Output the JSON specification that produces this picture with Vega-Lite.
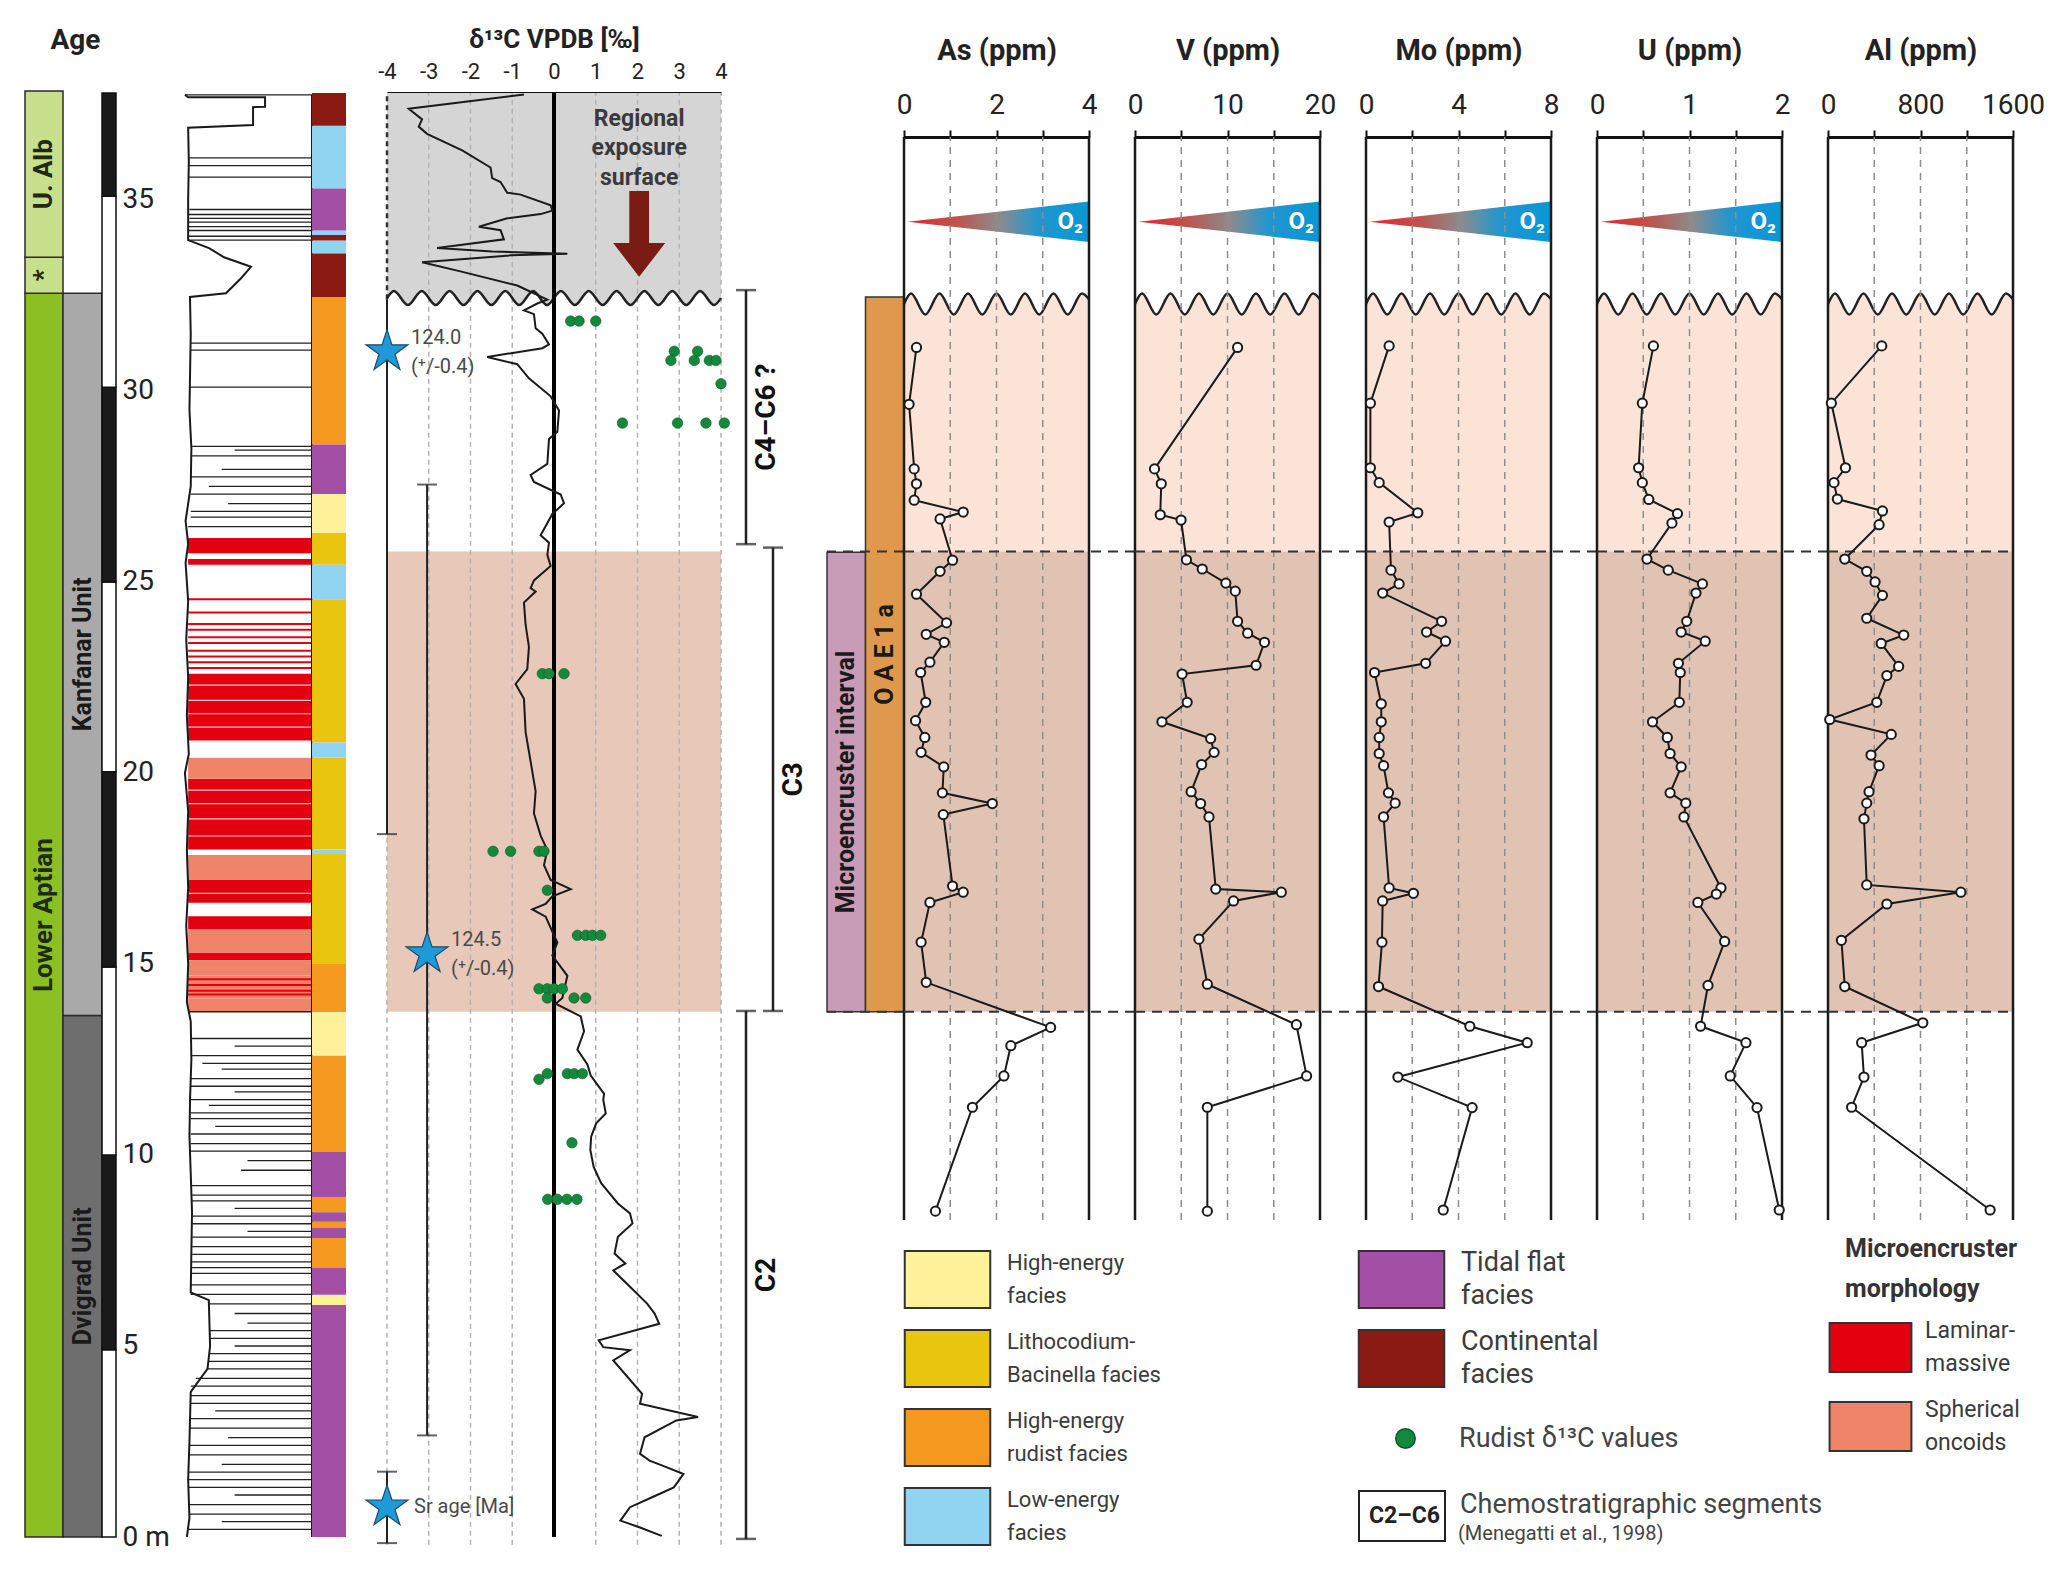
{
"$schema": "https://vega.github.io/schema/vega-lite/v6.json",
"background": "white",
"padding": {"left": 24, "top": 26, "right": 5, "bottom": 5},
"config": {"view": {"stroke": null}, "font": "Roboto", "style": {"guide-label": {"lineHeight": 33}}},
"datasets": {
"geo": [
{"el":"As","d":31.14,"v":0.27},{"el":"As","d":29.65,"v":0.11},{"el":"As","d":27.96,"v":0.22},{"el":"As","d":27.57,"v":0.27},{"el":"As","d":27.14,"v":0.22},{"el":"As","d":26.83,"v":1.28},{"el":"As","d":26.65,"v":0.78},{"el":"As","d":25.57,"v":1.05},{"el":"As","d":25.28,"v":0.78},{"el":"As","d":24.68,"v":0.27},{"el":"As","d":23.93,"v":0.92},{"el":"As","d":23.63,"v":0.48},{"el":"As","d":23.42,"v":0.87},{"el":"As","d":22.9,"v":0.56},{"el":"As","d":22.63,"v":0.36},{"el":"As","d":21.85,"v":0.47},{"el":"As","d":21.37,"v":0.25},{"el":"As","d":20.93,"v":0.45},{"el":"As","d":20.54,"v":0.37},{"el":"As","d":20.16,"v":0.86},{"el":"As","d":19.48,"v":0.83},{"el":"As","d":19.2,"v":1.91},{"el":"As","d":18.91,"v":0.85},{"el":"As","d":17.04,"v":1.05},{"el":"As","d":16.88,"v":1.28},{"el":"As","d":16.61,"v":0.56},{"el":"As","d":15.57,"v":0.37},{"el":"As","d":14.52,"v":0.48},{"el":"As","d":13.34,"v":3.17},{"el":"As","d":12.86,"v":2.31},{"el":"As","d":12.07,"v":2.16},{"el":"As","d":11.25,"v":1.48},{"el":"As","d":8.53,"v":0.68},
{"el":"V","d":31.14,"v":11.09},{"el":"V","d":27.96,"v":2.11},{"el":"V","d":27.57,"v":2.84},{"el":"V","d":26.76,"v":2.73},{"el":"V","d":26.62,"v":4.98},{"el":"V","d":25.58,"v":5.56},{"el":"V","d":25.34,"v":7.27},{"el":"V","d":24.97,"v":9.82},{"el":"V","d":24.76,"v":10.84},{"el":"V","d":23.97,"v":11.09},{"el":"V","d":23.66,"v":12.18},{"el":"V","d":23.42,"v":14.0},{"el":"V","d":22.82,"v":13.09},{"el":"V","d":22.59,"v":5.09},{"el":"V","d":21.85,"v":5.64},{"el":"V","d":21.34,"v":2.91},{"el":"V","d":20.9,"v":8.18},{"el":"V","d":20.54,"v":8.55},{"el":"V","d":20.22,"v":7.2},{"el":"V","d":19.51,"v":6.07},{"el":"V","d":19.2,"v":7.09},{"el":"V","d":18.85,"v":8.0},{"el":"V","d":16.96,"v":8.73},{"el":"V","d":16.88,"v":15.82},{"el":"V","d":16.65,"v":10.65},{"el":"V","d":15.65,"v":6.91},{"el":"V","d":14.47,"v":7.82},{"el":"V","d":13.41,"v":17.45},{"el":"V","d":12.07,"v":18.55},{"el":"V","d":11.25,"v":7.82},{"el":"V","d":8.53,"v":7.82},
{"el":"Mo","d":31.18,"v":1.0},{"el":"Mo","d":29.68,"v":0.19},{"el":"Mo","d":27.99,"v":0.19},{"el":"Mo","d":27.6,"v":0.57},{"el":"Mo","d":26.81,"v":2.24},{"el":"Mo","d":26.57,"v":1.0},{"el":"Mo","d":25.31,"v":1.08},{"el":"Mo","d":24.95,"v":1.43},{"el":"Mo","d":24.71,"v":0.72},{"el":"Mo","d":23.97,"v":3.27},{"el":"Mo","d":23.69,"v":2.62},{"el":"Mo","d":23.45,"v":3.44},{"el":"Mo","d":22.87,"v":2.58},{"el":"Mo","d":22.63,"v":0.37},{"el":"Mo","d":21.81,"v":0.66},{"el":"Mo","d":21.34,"v":0.66},{"el":"Mo","d":20.93,"v":0.57},{"el":"Mo","d":20.51,"v":0.57},{"el":"Mo","d":20.19,"v":0.76},{"el":"Mo","d":19.48,"v":0.97},{"el":"Mo","d":19.21,"v":1.26},{"el":"Mo","d":18.85,"v":0.76},{"el":"Mo","d":16.99,"v":1.0},{"el":"Mo","d":16.85,"v":2.05},{"el":"Mo","d":16.65,"v":0.72},{"el":"Mo","d":15.57,"v":0.69},{"el":"Mo","d":14.41,"v":0.54},{"el":"Mo","d":13.37,"v":4.49},{"el":"Mo","d":12.94,"v":6.97},{"el":"Mo","d":12.04,"v":1.38},{"el":"Mo","d":11.24,"v":4.59},{"el":"Mo","d":8.56,"v":3.34},
{"el":"U","d":31.18,"v":0.61},{"el":"U","d":29.68,"v":0.49},{"el":"U","d":27.99,"v":0.45},{"el":"U","d":27.6,"v":0.49},{"el":"U","d":27.16,"v":0.56},{"el":"U","d":26.79,"v":0.87},{"el":"U","d":26.54,"v":0.81},{"el":"U","d":25.6,"v":0.54},{"el":"U","d":25.31,"v":0.77},{"el":"U","d":24.95,"v":1.14},{"el":"U","d":24.71,"v":1.07},{"el":"U","d":23.97,"v":0.97},{"el":"U","d":23.69,"v":0.91},{"el":"U","d":23.45,"v":1.17},{"el":"U","d":22.87,"v":0.88},{"el":"U","d":22.63,"v":0.9},{"el":"U","d":21.85,"v":0.89},{"el":"U","d":21.34,"v":0.6},{"el":"U","d":20.93,"v":0.76},{"el":"U","d":20.51,"v":0.79},{"el":"U","d":20.16,"v":0.91},{"el":"U","d":19.48,"v":0.79},{"el":"U","d":19.21,"v":0.96},{"el":"U","d":18.85,"v":0.94},{"el":"U","d":16.99,"v":1.34},{"el":"U","d":16.83,"v":1.29},{"el":"U","d":16.61,"v":1.09},{"el":"U","d":15.59,"v":1.38},{"el":"U","d":14.44,"v":1.2},{"el":"U","d":13.37,"v":1.12},{"el":"U","d":12.94,"v":1.61},{"el":"U","d":12.07,"v":1.44},{"el":"U","d":11.24,"v":1.73},{"el":"U","d":8.56,"v":1.97},
{"el":"Al","d":31.18,"v":465},{"el":"Al","d":29.68,"v":29},{"el":"Al","d":27.99,"v":151},{"el":"Al","d":27.6,"v":52},{"el":"Al","d":27.17,"v":81},{"el":"Al","d":26.86,"v":471},{"el":"Al","d":26.5,"v":442},{"el":"Al","d":25.6,"v":145},{"el":"Al","d":25.28,"v":335},{"el":"Al","d":25.0,"v":407},{"el":"Al","d":24.65,"v":471},{"el":"Al","d":24.05,"v":335},{"el":"Al","d":23.61,"v":655},{"el":"Al","d":23.39,"v":460},{"el":"Al","d":22.79,"v":611},{"el":"Al","d":22.55,"v":509},{"el":"Al","d":21.85,"v":422},{"el":"Al","d":21.4,"v":15},{"el":"Al","d":21.01,"v":547},{"el":"Al","d":20.47,"v":372},{"el":"Al","d":20.19,"v":442},{"el":"Al","d":19.51,"v":355},{"el":"Al","d":19.21,"v":335},{"el":"Al","d":18.8,"v":311},{"el":"Al","d":17.07,"v":335},{"el":"Al","d":16.88,"v":1149},{"el":"Al","d":16.57,"v":509},{"el":"Al","d":15.62,"v":116},{"el":"Al","d":14.41,"v":145},{"el":"Al","d":13.46,"v":820},{"el":"Al","d":12.94,"v":291},{"el":"Al","d":12.04,"v":311},{"el":"Al","d":11.25,"v":204},{"el":"Al","d":8.56,"v":1402}
],
"d13c": [
{"d":37.76,"v":-0.72},{"d":37.39,"v":-3.48},{"d":37.11,"v":-3.16},{"d":36.92,"v":-3.24},{"d":36.73,"v":-3.04},{"d":36.3,"v":-2.2},{"d":35.85,"v":-1.52},{"d":35.57,"v":-1.48},{"d":35.47,"v":-1.28},{"d":35.19,"v":-1.12},{"d":35.14,"v":-0.8},{"d":34.86,"v":-0.08},{"d":34.72,"v":-0.04},{"d":34.63,"v":-0.32},{"d":34.52,"v":-1.12},{"d":34.3,"v":-1.8},{"d":34.21,"v":-1.28},{"d":33.97,"v":-1.2},{"d":33.74,"v":-2.8},{"d":33.65,"v":-1.48},{"d":33.59,"v":0.32},{"d":33.55,"v":-1.04},{"d":33.37,"v":-3.16},{"d":33.13,"v":-2.24},{"d":32.76,"v":-0.88},{"d":32.39,"v":-0.16},{"d":32.29,"v":-0.4},{"d":32.11,"v":-0.72},{"d":32.01,"v":-0.48},{"d":31.64,"v":-0.44},{"d":31.5,"v":-0.28},{"d":31.22,"v":-0.12},{"d":31.12,"v":-0.28},{"d":30.89,"v":-1.6},{"d":30.7,"v":-0.88},{"d":30.33,"v":-0.6},{"d":29.86,"v":-0.08},{"d":29.49,"v":0.12},{"d":28.93,"v":0.08},{"d":28.74,"v":-0.12},{"d":28.09,"v":-0.16},{"d":27.8,"v":-0.56},{"d":27.62,"v":-0.48},{"d":27.29,"v":0.16},{"d":27.06,"v":0.24},{"d":26.78,"v":-0.04},{"d":26.22,"v":-0.32},{"d":26.03,"v":-0.12},{"d":25.71,"v":-0.16},{"d":25.42,"v":-0.08},{"d":25.04,"v":-0.48},{"d":24.84,"v":-0.56},{"d":24.75,"v":-0.44},{"d":24.46,"v":-0.72},{"d":23.88,"v":-0.68},{"d":23.3,"v":-0.6},{"d":22.72,"v":-0.64},{"d":22.33,"v":-0.92},{"d":21.94,"v":-0.72},{"d":21.07,"v":-0.68},{"d":20.3,"v":-0.56},{"d":19.52,"v":-0.44},{"d":18.94,"v":-0.48},{"d":18.36,"v":-0.32},{"d":17.98,"v":-0.16},{"d":17.59,"v":-0.24},{"d":17.2,"v":-0.08},{"d":16.96,"v":0.4},{"d":16.77,"v":-0.04},{"d":16.57,"v":-0.2},{"d":16.43,"v":-0.52},{"d":16.24,"v":-0.2},{"d":15.85,"v":-0.04},{"d":15.56,"v":0.08},{"d":15.22,"v":-0.04},{"d":14.69,"v":0.32},{"d":14.11,"v":0.2},{"d":13.96,"v":0.04},{"d":13.63,"v":0.64},{"d":13.24,"v":0.72},{"d":12.76,"v":0.56},{"d":12.37,"v":0.8},{"d":12.08,"v":0.88},{"d":11.6,"v":1.2},{"d":11.44,"v":1.18},{"d":11.09,"v":1.24},{"d":10.83,"v":1.01},{"d":10.48,"v":0.89},{"d":10.13,"v":0.87},{"d":9.69,"v":0.95},{"d":9.26,"v":1.13},{"d":8.73,"v":1.53},{"d":8.47,"v":1.82},{"d":8.21,"v":1.88},{"d":7.86,"v":1.53},{"d":7.42,"v":1.45},{"d":7.16,"v":1.71},{"d":6.98,"v":1.42},{"d":6.55,"v":1.82},{"d":6.11,"v":2.23},{"d":5.85,"v":2.41},{"d":5.58,"v":2.52},{"d":5.15,"v":1.07},{"d":4.97,"v":1.18},{"d":4.89,"v":1.82},{"d":4.62,"v":1.42},{"d":3.75,"v":2.11},{"d":3.49,"v":2.06},{"d":3.14,"v":3.45},{"d":3.05,"v":2.93},{"d":2.61,"v":2.17},{"d":2.18,"v":2.06},{"d":2.0,"v":2.29},{"d":1.83,"v":2.69},{"d":1.65,"v":3.1},{"d":1.3,"v":2.87},{"d":1.04,"v":2.35},{"d":0.78,"v":1.82},{"d":0.43,"v":1.59},{"d":0.25,"v":2.06},{"d":0.03,"v":2.58}
],
"rudist": [
{"d":31.83,"v":0.4},{"d":31.83,"v":0.6},{"d":31.83,"v":1.0},{"d":31.04,"v":2.88},{"d":31.04,"v":3.44},{"d":30.8,"v":2.8},{"d":30.8,"v":3.36},{"d":30.8,"v":3.72},{"d":30.8,"v":3.88},{"d":30.19,"v":4.0},{"d":29.16,"v":1.64},{"d":29.16,"v":2.96},{"d":29.16,"v":3.64},{"d":29.16,"v":4.08},
{"d":22.6,"v":-0.28},{"d":22.6,"v":-0.12},{"d":22.6,"v":0.24},{"d":17.95,"v":-1.46},{"d":17.95,"v":-1.04},{"d":17.95,"v":-0.36},{"d":17.95,"v":-0.24},{"d":16.93,"v":-0.16},{"d":15.75,"v":0.56},{"d":15.75,"v":0.76},{"d":15.75,"v":0.92},{"d":15.75,"v":1.12},{"d":14.35,"v":-0.36},{"d":14.35,"v":-0.16},{"d":14.35,"v":0.0},{"d":14.35,"v":0.2},{"d":14.11,"v":-0.16},{"d":14.11,"v":0.48},{"d":14.11,"v":0.76},{"d":12.13,"v":-0.16},{"d":12.13,"v":0.32},{"d":12.13,"v":0.48},{"d":12.13,"v":0.68},{"d":11.98,"v":-0.36},{"d":10.32,"v":0.43},{"d":8.84,"v":-0.15},{"d":8.84,"v":0.08},{"d":8.84,"v":0.31},{"d":8.84,"v":0.55}
],
"waveG": [
{"t":0,"d":32.28},{"t":0.038,"d":32.55},{"t":0.115,"d":32.0},{"t":0.192,"d":32.55},{"t":0.269,"d":32.0},{"t":0.346,"d":32.55},{"t":0.423,"d":32.0},{"t":0.5,"d":32.55},{"t":0.577,"d":32.0},{"t":0.654,"d":32.55},{"t":0.731,"d":32.0},{"t":0.808,"d":32.55},{"t":0.885,"d":32.0},{"t":0.962,"d":32.55},{"t":1,"d":32.4}
],
"waveD": [
{"v":-4,"d":32.43},{"v":-3.833,"d":32.62},{"v":-3.5,"d":32.25},{"v":-3.167,"d":32.62},{"v":-2.833,"d":32.25},{"v":-2.5,"d":32.62},{"v":-2.167,"d":32.25},{"v":-1.833,"d":32.62},{"v":-1.5,"d":32.25},{"v":-1.167,"d":32.62},{"v":-0.833,"d":32.25},{"v":-0.5,"d":32.62},{"v":-0.167,"d":32.25},{"v":0.167,"d":32.62},{"v":0.5,"d":32.25},{"v":0.833,"d":32.62},{"v":1.167,"d":32.25},{"v":1.5,"d":32.62},{"v":1.833,"d":32.25},{"v":2.167,"d":32.62},{"v":2.5,"d":32.25},{"v":2.833,"d":32.62},{"v":3.167,"d":32.25},{"v":3.5,"d":32.62},{"v":3.833,"d":32.25},{"v":4,"d":32.43}
],
"o2": [{"t":0.02,"lo":34.43,"hi":34.43,"mid":34.43},{"t":1,"lo":33.9,"hi":34.96,"mid":34.43,"label":"O₂"}],
"facies": [
{"from":36.94,"to":37.8,"facies":"Continental facies"},{"from":35.3,"to":36.94,"facies":"Low-energy facies"},{"from":34.2,"to":35.3,"facies":"Tidal flat facies"},{"from":34.08,"to":34.2,"facies":"Low-energy facies"},{"from":33.94,"to":34.08,"facies":"Continental facies"},{"from":33.6,"to":33.94,"facies":"Low-energy facies"},{"from":32.46,"to":33.6,"facies":"Continental facies"},{"from":28.6,"to":32.46,"facies":"High-energy rudist facies"},{"from":27.3,"to":28.6,"facies":"Tidal flat facies"},{"from":26.28,"to":27.3,"facies":"High-energy facies"},{"from":25.45,"to":26.28,"facies":"Lithocodium-Bacinella facies"},{"from":24.55,"to":25.45,"facies":"Low-energy facies"},{"from":20.8,"to":24.55,"facies":"Lithocodium-Bacinella facies"},{"from":20.4,"to":20.8,"facies":"Low-energy facies"},{"from":18.0,"to":20.4,"facies":"Lithocodium-Bacinella facies"},{"from":17.88,"to":18.0,"facies":"Low-energy facies"},{"from":15.0,"to":17.88,"facies":"Lithocodium-Bacinella facies"},{"from":13.74,"to":15.0,"facies":"High-energy rudist facies"},{"from":12.6,"to":13.74,"facies":"High-energy facies"},{"from":10.08,"to":12.6,"facies":"High-energy rudist facies"},{"from":8.9,"to":10.08,"facies":"Tidal flat facies"},{"from":8.5,"to":8.9,"facies":"High-energy rudist facies"},{"from":8.25,"to":8.5,"facies":"Tidal flat facies"},{"from":8.09,"to":8.25,"facies":"High-energy rudist facies"},{"from":7.83,"to":8.09,"facies":"Tidal flat facies"},{"from":7.04,"to":7.83,"facies":"High-energy rudist facies"},{"from":6.34,"to":7.04,"facies":"Tidal flat facies"},{"from":6.07,"to":6.34,"facies":"High-energy facies"},{"from":0,"to":6.07,"facies":"Tidal flat facies"}
],
"stages": [{"stage":"Lower Aptian","from":0,"to":32.56},{"stage":"*","from":32.56,"to":33.5},{"stage":"U. Alb","from":33.5,"to":37.85}],
"units": [{"unit":"Dvigrad Unit","from":0,"to":13.65},{"unit":"Kanfanar Unit","from":13.65,"to":32.56}],
"mag": [{"pol":"reversed","from":0,"to":4.9},{"pol":"normal","from":4.9,"to":10.0},{"pol":"reversed","from":10.0,"to":14.92},{"pol":"normal","from":14.92,"to":20.03},{"pol":"reversed","from":20.03,"to":25.0},{"pol":"normal","from":25.0,"to":30.1},{"pol":"reversed","from":30.1,"to":35.1},{"pol":"normal","from":35.1,"to":37.8}],
"profile": [
{"i":1,"d":37.75,"w":9.84},{"i":2,"d":37.69,"w":9.6},{"i":3,"d":37.69,"w":3.64},{"i":4,"d":37.44,"w":3.64},{"i":5,"d":37.43,"w":4.57},{"i":6,"d":36.96,"w":4.57},{"i":7,"d":36.89,"w":9.6},{"i":8,"d":36.0,"w":9.55},{"i":9,"d":35.0,"w":9.6},{"i":10,"d":33.95,"w":9.6},{"i":11,"d":33.74,"w":7.98},{"i":12,"d":33.5,"w":6.82},{"i":13,"d":33.25,"w":4.73},{"i":14,"d":32.95,"w":5.5},{"i":15,"d":32.56,"w":6.67},{"i":16,"d":32.46,"w":9.46},{"i":17,"d":31.5,"w":9.4},{"i":18,"d":30.5,"w":9.45},{"i":19,"d":29.5,"w":9.5},{"i":20,"d":28.5,"w":9.35},{"i":21,"d":27.5,"w":9.4},{"i":22,"d":26.6,"w":9.8},{"i":23,"d":26.0,"w":9.6},{"i":24,"d":25.5,"w":9.8},{"i":25,"d":24.5,"w":9.6},{"i":26,"d":23.5,"w":9.75},{"i":27,"d":22.5,"w":9.6},{"i":28,"d":21.5,"w":9.7},{"i":29,"d":20.5,"w":9.55},{"i":30,"d":20.0,"w":9.85},{"i":31,"d":19.0,"w":9.6},{"i":32,"d":18.0,"w":9.7},{"i":33,"d":17.0,"w":9.6},{"i":34,"d":16.0,"w":9.75},{"i":35,"d":15.0,"w":9.6},{"i":36,"d":14.0,"w":9.7},{"i":37,"d":13.5,"w":9.4},{"i":38,"d":12.5,"w":9.35},{"i":39,"d":11.5,"w":9.45},{"i":40,"d":10.5,"w":9.5},{"i":41,"d":9.5,"w":9.4},{"i":42,"d":8.5,"w":9.3},{"i":43,"d":7.5,"w":9.35},{"i":44,"d":6.4,"w":9.4},{"i":45,"d":6.2,"w":8.0},{"i":46,"d":5.0,"w":7.9},{"i":47,"d":4.4,"w":8.1},{"i":48,"d":3.8,"w":9.4},{"i":49,"d":2.5,"w":9.5},{"i":50,"d":1.5,"w":9.6},{"i":51,"d":0.5,"w":9.5},{"i":52,"d":0.0,"w":9.7}
],
"beds": [
{"d":37.75,"len":9.84},{"d":36.1,"len":9.55},{"d":35.9,"len":9.55},{"d":35.6,"len":9.55},{"d":34.75,"len":9.5},{"d":34.62,"len":9.55},{"d":34.52,"len":9.5},{"d":34.42,"len":9.55},{"d":34.3,"len":9.55},{"d":34.2,"len":9.55},{"d":34.05,"len":9.55},{"d":33.95,"len":9.6},
{"d":31.25,"len":9.4},{"d":31.07,"len":9.4},{"d":30.1,"len":9.45},{"d":28.55,"len":9.35},{"d":28.45,"len":6.0},{"d":28.3,"len":9.4},{"d":27.95,"len":7.0},{"d":27.75,"len":9.4},{"d":27.5,"len":8.0},{"d":27.3,"len":9.4},{"d":27.05,"len":6.5},{"d":26.85,"len":9.4},{"d":26.7,"len":9.4},{"d":26.45,"len":9.6},{"d":13.75,"len":9.5},
{"d":13.05,"len":9.4},{"d":12.85,"len":6.0},{"d":12.6,"len":9.4},{"d":12.4,"len":8.5},{"d":12.25,"len":7.0},{"d":12.0,"len":9.4},{"d":11.8,"len":9.4},{"d":11.65,"len":6.0},{"d":11.45,"len":9.4},{"d":11.3,"len":8.0},{"d":11.1,"len":9.4},{"d":10.95,"len":9.4},{"d":10.75,"len":7.5},{"d":10.55,"len":9.4},{"d":10.3,"len":9.4},{"d":10.1,"len":9.5},{"d":9.85,"len":5.0},{"d":9.6,"len":5.5},{"d":9.2,"len":9.4},{"d":8.95,"len":9.3},{"d":8.8,"len":9.3},{"d":8.6,"len":6.0},{"d":8.4,"len":9.3},{"d":8.2,"len":9.3},{"d":8.0,"len":5.0},{"d":7.85,"len":9.3},{"d":7.6,"len":9.3},{"d":7.4,"len":9.3},{"d":7.2,"len":9.35},{"d":7.05,"len":9.35},{"d":6.9,"len":9.35},{"d":6.6,"len":9.4},{"d":6.35,"len":9.4},{"d":6.1,"len":8.0},{"d":5.85,"len":6.0},{"d":5.6,"len":5.0},{"d":5.4,"len":7.9},{"d":5.2,"len":7.9},{"d":5.0,"len":6.0},{"d":4.8,"len":7.9},{"d":4.6,"len":8.0},{"d":4.4,"len":8.1},{"d":4.15,"len":9.0},{"d":3.95,"len":9.4},{"d":3.7,"len":9.4},{"d":3.5,"len":9.4},{"d":3.3,"len":7.5},{"d":3.1,"len":9.45},{"d":2.85,"len":9.45},{"d":2.6,"len":6.5},{"d":2.4,"len":9.5},{"d":2.15,"len":9.5},{"d":1.9,"len":7.0},{"d":1.7,"len":9.55},{"d":1.5,"len":9.6},{"d":1.3,"len":9.6},{"d":1.1,"len":6.0},{"d":0.85,"len":9.55},{"d":0.6,"len":9.5},{"d":0.4,"len":7.0},{"d":0.2,"len":9.6}
],
"redlines": [{"d":26.05},{"d":25.95},{"d":25.87},{"d":25.55},{"d":24.55},{"d":24.2},{"d":23.9},{"d":23.75},{"d":23.55},{"d":23.4},{"d":23.2},{"d":23.05},{"d":22.9},{"d":22.75},{"d":14.6},{"d":14.45},{"d":14.3},{"d":14.2}],
"whitelines": [{"d":21.2},{"d":21.55},{"d":21.9},{"d":22.3},{"d":18.35},{"d":18.8},{"d":19.2},{"d":19.55},{"d":16.85}],
"morph": [
{"from":25.75,"to":26.15,"morph":"Laminar-massive"},{"from":25.45,"to":25.6,"morph":"Laminar-massive"},{"from":20.85,"to":22.6,"morph":"Laminar-massive"},{"from":18.0,"to":19.85,"morph":"Laminar-massive"},{"from":16.6,"to":17.2,"morph":"Laminar-massive"},{"from":15.9,"to":16.25,"morph":"Laminar-massive"},{"from":15.1,"to":15.3,"morph":"Laminar-massive"},
{"from":19.85,"to":20.4,"morph":"Spherical oncoids"},{"from":17.2,"to":17.85,"morph":"Spherical oncoids"},{"from":15.3,"to":15.9,"morph":"Spherical oncoids"},{"from":14.7,"to":15.1,"morph":"Spherical oncoids"},{"from":14.1,"to":14.7,"morph":"Spherical oncoids"},{"from":13.75,"to":14.1,"morph":"Spherical oncoids"}
],
"segments": [{"seg":"C4–C6 ?","from":25.99,"to":32.64,"lane":"outer"},{"seg":"C3","from":13.77,"to":25.9,"lane":"inner"},{"seg":"C2","from":-0.05,"to":13.77,"lane":"outer"}],
"oae": [{"bar":"Microencruster interval","from":13.75,"to":25.78,"label":"Microencruster interval"},{"bar":"OAE 1a","from":13.75,"to":32.46,"label":"O A E  1 a"}],
"stars": [{"v":-4,"d":31.03,"age":"124.0","err":"(⁺/-0.4)"},{"v":-3.04,"d":15.27,"age":"124.5","err":"(⁺/-0.4)"},{"v":-4,"d":0.79,"age":"Sr age [Ma]"}],
"errbars": [{"v":-4,"lo":18.4,"hi":32.4},{"v":-3.04,"lo":2.66,"hi":27.55},{"v":-4,"lo":-0.16,"hi":1.71}],
"caps": [{"v":-4,"d":18.4},{"v":-3.04,"d":2.66},{"v":-3.04,"d":27.55},{"v":-4,"d":1.71},{"v":-4,"d":-0.16}]
},
"spacing": 0,
"bounds": "flush",
"hconcat": [
{"width": 38, "height": 1444, "data": {"name": "stages"},
 "transform": [{"calculate": "(datum.from + datum.to) / 2", "as": "mid"}],
 "layer": [
  {"mark": {"type": "rect", "stroke": "#2b2b2b", "strokeWidth": 1.5},
   "encoding": {"y": {"field": "from", "type": "quantitative", "scale": {"domain": [0, 37.8], "nice": false, "zero": false}, "axis": null}, "y2": {"field": "to"},
    "color": {"field": "stage", "type": "nominal", "scale": {"domain": ["Lower Aptian", "*", "U. Alb"], "range": ["#8cbf22", "#c8df8c", "#c8df8c"]}, "legend": null}}},
  {"mark": {"type": "text", "angle": 270, "fontSize": 26, "fontWeight": "bold", "color": "#1e2a12", "baseline": "middle", "align": "center"},
   "encoding": {"y": {"field": "mid", "type": "quantitative"}, "text": {"field": "stage"}}}
 ]},
{"width": 39, "height": 1444, "data": {"name": "units"},
 "title": {"text": "Age", "fontSize": 28, "fontWeight": "bold", "offset": 38, "color": "#222", "dx": -7},
 "transform": [{"calculate": "(datum.from + datum.to) / 2", "as": "mid"}],
 "layer": [
  {"mark": {"type": "rect", "stroke": "#2b2b2b", "strokeWidth": 1.5},
   "encoding": {"y": {"field": "from", "type": "quantitative", "scale": {"domain": [0, 37.8], "nice": false, "zero": false}, "axis": null}, "y2": {"field": "to"},
    "color": {"field": "unit", "type": "nominal", "scale": {"domain": ["Dvigrad Unit", "Kanfanar Unit"], "range": ["#6e6e6e", "#a9a9a9"]}, "legend": null}}},
  {"mark": {"type": "text", "angle": 270, "fontSize": 25, "fontWeight": "bold", "color": "#1a1a1a", "baseline": "middle", "align": "center"},
   "encoding": {"y": {"field": "mid", "type": "quantitative"}, "text": {"field": "unit"}}}
 ]},
{"width": 14, "height": 1444, "data": {"name": "mag"},
 "mark": {"type": "rect", "stroke": "#111", "strokeWidth": 1.5},
 "encoding": {
  "y": {"field": "from", "type": "quantitative", "scale": {"domain": [0, 37.8], "nice": false, "zero": false},
   "axis": {"orient": "right", "values": [0, 5, 10, 15, 20, 25, 30, 35], "labelExpr": "datum.value == 0 ? '0 m' : datum.label", "labelFontSize": 28, "labelColor": "#222", "labelPadding": 6, "domain": false, "ticks": false, "grid": false, "title": null, "labelFlush": false, "labelOverlap": false}},
  "y2": {"field": "to"},
  "color": {"field": "pol", "type": "nominal", "scale": {"domain": ["normal", "reversed"], "range": ["#1a1a1a", "#ffffff"]}, "legend": null}}},
{"width": 67, "height": 1444, "data": {"values": [{}]}, "mark": {"type": "point", "opacity": 0}, "encoding": {}},
{"width": 129, "height": 1444,
 "layer": [
  {"data": {"name": "morph"}, "mark": {"type": "rect"},
   "encoding": {"x": {"datum": 0, "type": "quantitative", "scale": {"domain": [0, 10], "reverse": true, "nice": false, "zero": false}, "axis": null}, "x2": {"datum": 9.6},
    "y": {"field": "from", "type": "quantitative", "scale": {"domain": [0, 37.8], "nice": false, "zero": false}, "axis": null}, "y2": {"field": "to"},
    "color": {"field": "morph", "type": "nominal", "scale": {"domain": ["Laminar-massive", "Spherical oncoids"], "range": ["#e3000f", "#f08468"]},
     "legend": {"orient": "none", "legendX": 1662, "legendY": 1144, "padding": 0, "title": ["Microencruster", "morphology"], "titleFontSize": 25, "titleFontWeight": "bold", "titleColor": "#333", "titleLineHeight": 40, "titlePadding": 20,
      "symbolType": "M-1.67,-1L1.67,-1L1.67,1L-1.67,1Z", "symbolSize": 2401, "symbolStrokeColor": "#333", "symbolStrokeWidth": 2, "symbolOpacity": 1,
      "labelExpr": "datum.label == 'Laminar-massive' ? ['Laminar-', 'massive'] : ['Spherical', 'oncoids']", "labelBaseline": "line-bottom", "labelFontSize": 23, "labelColor": "#3b3b3b", "labelOffset": 29, "labelLimit": 300, "rowPadding": 22}}}},
  {"data": {"name": "beds"}, "mark": {"type": "rule", "color": "#222", "strokeWidth": 1.3},
   "encoding": {"x": {"field": "len", "type": "quantitative"}, "x2": {"datum": 0}, "y": {"field": "d", "type": "quantitative"}}},
  {"data": {"name": "redlines"}, "mark": {"type": "rule", "color": "#e3000f", "strokeWidth": 2},
   "encoding": {"x": {"datum": 0, "type": "quantitative"}, "x2": {"datum": 9.6}, "y": {"field": "d", "type": "quantitative"}}},
  {"data": {"name": "whitelines"}, "mark": {"type": "rule", "color": "#ffffff", "strokeWidth": 1.2, "opacity": 0.8},
   "encoding": {"x": {"datum": 0, "type": "quantitative"}, "x2": {"datum": 9.6}, "y": {"field": "d", "type": "quantitative"}}},
  {"data": {"name": "profile"}, "mark": {"type": "line", "color": "#1a1a1a", "strokeWidth": 2},
   "encoding": {"x": {"field": "w", "type": "quantitative"}, "y": {"field": "d", "type": "quantitative"}, "order": {"field": "i", "type": "quantitative"}}},
  {"data": {"values": [{}]}, "mark": {"type": "rule", "color": "#1a1a1a", "strokeWidth": 2},
   "encoding": {"x": {"datum": 0, "type": "quantitative"}, "y": {"datum": 0, "type": "quantitative"}, "y2": {"datum": 37.75}}}
 ]},
{"width": 34, "height": 1444, "data": {"name": "facies"},
 "layer": [
  {"transform": [{"filter": {"field": "facies", "oneOf": ["High-energy facies", "Lithocodium-Bacinella facies", "High-energy rudist facies", "Low-energy facies"]}}],
   "mark": {"type": "rect"},
   "encoding": {"y": {"field": "from", "type": "quantitative", "scale": {"domain": [0, 37.8], "nice": false, "zero": false}, "axis": null}, "y2": {"field": "to"},
    "color": {"field": "facies", "type": "nominal", "scale": {"domain": ["High-energy facies", "Lithocodium-Bacinella facies", "High-energy rudist facies", "Low-energy facies"], "range": ["#fdf29a", "#eac50f", "#f4981f", "#91d4f1"]},
     "legend": {"orient": "none", "legendX": 606, "legendY": 1157, "padding": 0, "title": null,
      "symbolType": "M-1.5,-1L1.5,-1L1.5,1L-1.5,1Z", "symbolSize": 3249, "symbolStrokeColor": "#333", "symbolStrokeWidth": 2, "symbolOpacity": 1,
      "labelExpr": "datum.label == 'High-energy facies' ? ['High-energy', 'facies'] : datum.label == 'Lithocodium-Bacinella facies' ? ['Lithocodium-', 'Bacinella facies'] : datum.label == 'High-energy rudist facies' ? ['High-energy', 'rudist facies'] : ['Low-energy', 'facies']",
      "labelBaseline": "line-bottom", "labelFontSize": 22, "labelColor": "#3b3b3b", "labelOffset": 30, "labelLimit": 400, "rowPadding": 14}}}},
  {"transform": [{"filter": {"field": "facies", "oneOf": ["Tidal flat facies", "Continental facies"]}}],
   "mark": {"type": "rect"},
   "encoding": {"y": {"field": "from", "type": "quantitative"}, "y2": {"field": "to"},
    "fill": {"field": "facies", "type": "nominal", "scale": {"domain": ["Tidal flat facies", "Continental facies"], "range": ["#a34fa5", "#8b1a12"]},
     "legend": {"orient": "none", "legendX": 1060, "legendY": 1157, "padding": 0, "title": null,
      "symbolType": "M-1.5,-1L1.5,-1L1.5,1L-1.5,1Z", "symbolSize": 3249, "symbolStrokeColor": "#333", "symbolStrokeWidth": 2, "symbolOpacity": 1,
      "labelExpr": "datum.label == 'Tidal flat facies' ? ['Tidal flat', 'facies'] : ['Continental', 'facies']",
      "labelBaseline": "line-bottom", "labelFontSize": 27, "labelColor": "#3b3b3b", "labelOffset": 30, "labelLimit": 400, "rowPadding": 14}}}}
 ]},
{"width": 41, "height": 1444, "data": {"values": [{}]}, "mark": {"type": "point", "opacity": 0}, "encoding": {}},
{"width": 334, "height": 1444,
 "layer": [
  {"data": {"name": "waveD"}, "mark": {"type": "area", "orient": "vertical", "interpolate": "monotone", "color": "#d5d5d5"},
   "encoding": {"x": {"field": "v", "type": "quantitative", "scale": {"domain": [-4, 4], "nice": false, "zero": false},
     "axis": {"orient": "top", "values": [-4, -3, -2, -1, 0, 1, 2, 3, 4], "format": "d", "labelExpr": "replace(datum.label, '−', '-')", "labelFontSize": 22, "labelColor": "#222", "labelPadding": 10, "labelFlush": false, "labelOverlap": false, "ticks": false, "tickSize": 0, "domain": true, "domainColor": "#111", "domainWidth": 3, "grid": false, "title": "δ¹³C VPDB [‰]", "titleFontSize": 26, "titleFontWeight": "bold", "titleColor": "#222", "titlePadding": 8}},
    "y": {"field": "d", "type": "quantitative", "scale": {"domain": [0, 37.8], "nice": false, "zero": false}, "axis": null}, "y2": {"datum": 37.8}}},
  {"data": {"values": [{"from": 13.75, "to": 25.8}]}, "mark": {"type": "rect", "color": "#e7c8b9"},
   "encoding": {"y": {"field": "from", "type": "quantitative"}, "y2": {"field": "to"}}},
  {"data": {"values": [{"g": -3}, {"g": -2}, {"g": -1}, {"g": 1}, {"g": 2}, {"g": 3}, {"g": 4}]}, "mark": {"type": "rule", "strokeDash": [5, 4], "color": "#b3b3b3", "strokeWidth": 1.5},
   "encoding": {"x": {"field": "g", "type": "quantitative"}, "y": {"datum": -0.2, "type": "quantitative"}, "y2": {"datum": 37.8}}},
  {"data": {"values": [{"g": -4}]}, "mark": {"type": "rule", "strokeDash": [5, 4], "color": "#b3b3b3", "strokeWidth": 1.5},
   "encoding": {"x": {"field": "g", "type": "quantitative"}, "y": {"datum": -0.2, "type": "quantitative"}, "y2": {"datum": 32.4}}},
  {"data": {"values": [{"g": -4}]}, "mark": {"type": "rule", "strokeDash": [5, 4], "color": "#333", "strokeWidth": 2.5},
   "encoding": {"x": {"field": "g", "type": "quantitative"}, "y": {"datum": 32.4, "type": "quantitative"}, "y2": {"datum": 37.8}}},
  {"data": {"name": "errbars"}, "mark": {"type": "rule", "color": "#222", "strokeWidth": 2},
   "encoding": {"x": {"field": "v", "type": "quantitative"}, "y": {"field": "lo", "type": "quantitative"}, "y2": {"field": "hi"}}},
  {"data": {"name": "caps"}, "mark": {"type": "tick", "orient": "horizontal", "size": 20, "thickness": 2, "color": "#222"},
   "encoding": {"x": {"field": "v", "type": "quantitative"}, "y": {"field": "d", "type": "quantitative"}}},
  {"data": {"name": "waveD"}, "mark": {"type": "line", "interpolate": "monotone", "color": "#222", "strokeWidth": 2.5},
   "encoding": {"x": {"field": "v", "type": "quantitative"}, "y": {"field": "d", "type": "quantitative"}}},
  {"data": {"values": [{}]}, "mark": {"type": "rule", "color": "#000", "strokeWidth": 4},
   "encoding": {"x": {"datum": 0, "type": "quantitative"}, "y": {"datum": 0, "type": "quantitative"}, "y2": {"datum": 37.8}}},
  {"data": {"name": "d13c"}, "mark": {"type": "line", "color": "#1a1a1a", "strokeWidth": 2},
   "encoding": {"x": {"field": "v", "type": "quantitative"}, "y": {"field": "d", "type": "quantitative"}, "order": {"field": "d", "type": "quantitative"}}},
  {"data": {"name": "rudist"}, "mark": {"type": "circle", "size": 110, "opacity": 1, "stroke": "#0c5a25", "strokeWidth": 0.6},
   "encoding": {"x": {"field": "v", "type": "quantitative"}, "y": {"field": "d", "type": "quantitative"},
    "color": {"datum": "Rudist δ¹³C values", "type": "nominal", "scale": {"range": ["#15893b"]},
     "legend": {"orient": "none", "legendX": 1005, "legendY": 1332, "padding": 0, "title": null, "symbolType": "circle", "symbolSize": 380, "symbolOpacity": 1, "labelBaseline": "middle", "labelFontSize": 27, "labelColor": "#444", "labelOffset": 40, "labelLimit": 500}}}},
  {"data": {"name": "stars"}, "mark": {"type": "point", "shape": "M0,-1L0.2245,-0.309L0.951,-0.309L0.363,0.118L0.588,0.809L0,0.382L-0.588,0.809L-0.363,0.118L-0.951,-0.309L-0.2245,-0.309Z", "size": 1936, "filled": true, "fill": "#1f9ad6", "stroke": "#1d4b70", "strokeWidth": 1.2, "opacity": 1},
   "encoding": {"x": {"field": "v", "type": "quantitative"}, "y": {"field": "d", "type": "quantitative"}}},
  {"data": {"name": "stars"}, "transform": [{"filter": "isValid(datum.err)"}], "mark": {"type": "text", "align": "left", "baseline": "middle", "dx": 24, "dy": -14, "fontSize": 20, "color": "#4a4a4a"},
   "encoding": {"x": {"field": "v", "type": "quantitative"}, "y": {"field": "d", "type": "quantitative"}, "text": {"field": "age"}}},
  {"data": {"name": "stars"}, "transform": [{"filter": "isValid(datum.err)"}], "mark": {"type": "text", "align": "left", "baseline": "middle", "dx": 24, "dy": 15, "fontSize": 20, "color": "#4a4a4a"},
   "encoding": {"x": {"field": "v", "type": "quantitative"}, "y": {"field": "d", "type": "quantitative"}, "text": {"field": "err"}}},
  {"data": {"name": "stars"}, "transform": [{"filter": "!isValid(datum.err)"}], "mark": {"type": "text", "align": "left", "baseline": "middle", "dx": 27, "fontSize": 20, "color": "#4a4a4a"},
   "encoding": {"x": {"field": "v", "type": "quantitative"}, "y": {"field": "d", "type": "quantitative"}, "text": {"field": "age"}}},
  {"data": {"values": [{"v": 2.04, "d": 37.12, "label": "Regional\nexposure\nsurface"}]}, "mark": {"type": "text", "lineBreak": "\n", "lineHeight": 29.5, "fontSize": 23, "fontWeight": "bold", "color": "#3a3a3a", "align": "center", "baseline": "middle"},
   "encoding": {"x": {"field": "v", "type": "quantitative"}, "y": {"field": "d", "type": "quantitative"}, "text": {"field": "label"}}},
  {"data": {"values": [{"v": 2.04, "d": 34.11}]}, "mark": {"type": "point", "shape": "M-0.38,-1.65L0.38,-1.65L0.38,0.35L1,0.35L0,1.65L-1,0.35L-0.38,0.35Z", "size": 2704, "filled": true, "color": "#7a1b14", "opacity": 1, "strokeWidth": 0},
   "encoding": {"x": {"field": "v", "type": "quantitative"}, "y": {"field": "d", "type": "quantitative"}}}
 ]},
{"width": 106, "height": 1444, "data": {"name": "segments"},
 "transform": [{"calculate": "(datum.from + datum.to) / 2", "as": "mid"}],
 "layer": [
  {"mark": {"type": "rule", "strokeWidth": 2.5},
   "encoding": {"x": {"field": "lane", "type": "nominal", "scale": {"type": "point", "domain": ["outer", "inner"], "range": [25, 52], "padding": 0}, "axis": null},
    "y": {"field": "from", "type": "quantitative", "scale": {"domain": [0, 37.8], "nice": false, "zero": false}, "axis": null}, "y2": {"field": "to"},
    "stroke": {"datum": "C2–C6", "type": "nominal", "scale": {"range": ["#222222"]},
     "legend": {"orient": "none", "legendX": 655, "legendY": 1397, "padding": 0, "title": null, "symbolType": "M-1.72,-1L1.72,-1L1.72,1L-1.72,1Z", "symbolSize": 2500, "symbolStrokeWidth": 2, "symbolFillColor": "white", "labelBaseline": "middle", "labelFontSize": 23, "labelFontWeight": "bold", "labelColor": "#222", "labelOffset": -59}},
    "strokeDash": {"datum": "Chemostratigraphic segments", "type": "nominal", "scale": {"range": [[1, 0]]},
     "legend": {"orient": "none", "legendX": 737, "legendY": 1398, "padding": 0, "title": "(Menegatti et al., 1998)", "titleOrient": "bottom", "titleFontSize": 20, "titleFontWeight": "normal", "titleColor": "#444", "titlePadding": 6, "titleLimit": 600, "symbolSize": 1, "symbolOpacity": 0, "labelBaseline": "middle", "labelFontSize": 27, "labelColor": "#444", "labelOffset": -25, "labelLimit": 600}}}},
  {"mark": {"type": "tick", "orient": "horizontal", "size": 20, "thickness": 2.5, "color": "#222"},
   "encoding": {"x": {"field": "lane", "type": "nominal"}, "y": {"field": "from", "type": "quantitative"}}},
  {"mark": {"type": "tick", "orient": "horizontal", "size": 20, "thickness": 2.5, "color": "#222"},
   "encoding": {"x": {"field": "lane", "type": "nominal"}, "y": {"field": "to", "type": "quantitative"}}},
  {"mark": {"type": "text", "angle": 270, "fontSize": 28, "fontWeight": "bold", "dy": 21, "color": "#111", "align": "center", "baseline": "middle"},
   "encoding": {"x": {"field": "lane", "type": "nominal"}, "y": {"field": "mid", "type": "quantitative"}, "text": {"field": "seg"}}}
 ]},
{"width": 77, "height": 1444,
 "layer": [
  {"data": {"name": "oae"}, "mark": {"type": "rect", "stroke": "#333", "strokeWidth": 1.5},
   "encoding": {"x": {"field": "bar", "type": "nominal", "scale": {"domain": ["Microencruster interval", "OAE 1a"], "paddingInner": 0, "paddingOuter": 0}, "axis": null},
    "y": {"field": "from", "type": "quantitative", "scale": {"domain": [0, 37.8], "nice": false, "zero": false}, "axis": null}, "y2": {"field": "to"},
    "color": {"field": "bar", "type": "nominal", "scale": {"domain": ["Microencruster interval", "OAE 1a"], "range": ["#c89bb6", "#e0984c"]}, "legend": null}}},
  {"data": {"values": [{"d": 25.8}, {"d": 13.75}]}, "mark": {"type": "rule", "strokeDash": [10, 7], "color": "#333", "strokeWidth": 2},
   "encoding": {"y": {"field": "d", "type": "quantitative"}}},
  {"data": {"name": "oae"}, "transform": [{"calculate": "(datum.from + datum.to) / 2", "as": "mid"}],
   "mark": {"type": "text", "angle": 270, "fontSize": 25, "fontWeight": "bold", "color": "#1a1a1a", "align": "center", "baseline": "middle"},
   "encoding": {"x": {"field": "bar", "type": "nominal", "bandPosition": 0.5}, "y": {"field": "mid", "type": "quantitative"}, "text": {"field": "label"}}}
 ]},
{"width": 185, "height": 1444,
 "resolve": {"scale": {"x": "independent"}},
 "layer": [
  {"layer": [
   {"data": {"name": "waveG"}, "mark": {"type": "area", "orient": "vertical", "interpolate": "monotone", "color": "#fbe4d7"},
    "encoding": {"x": {"field": "t", "type": "quantitative", "scale": {"domain": [0, 1], "nice": false, "zero": false}, "axis": null}, "y": {"field": "d", "type": "quantitative", "scale": {"domain": [0, 37.8], "nice": false, "zero": false}, "axis": null}, "y2": {"datum": 25.8}}},
   {"data": {"name": "o2"}, "mark": {"type": "area", "orient": "vertical", "color": {"gradient": "linear", "x1": 0, "y1": 0, "x2": 1, "y2": 0, "stops": [{"offset": 0, "color": "#e5232a"}, {"offset": 0.25, "color": "#c0504a"}, {"offset": 0.5, "color": "#8e8a8a"}, {"offset": 0.72, "color": "#2196cf"}, {"offset": 1, "color": "#0996d5"}]}},
    "encoding": {"x": {"field": "t", "type": "quantitative"}, "y": {"field": "lo", "type": "quantitative"}, "y2": {"field": "hi"}}},
   {"data": {"name": "o2"}, "transform": [{"filter": "isValid(datum.label)"}], "mark": {"type": "text", "align": "right", "dx": -6, "baseline": "middle", "fontSize": 24, "fontWeight": "bold", "color": "white"},
    "encoding": {"x": {"field": "t", "type": "quantitative"}, "y": {"field": "mid", "type": "quantitative"}, "text": {"field": "label"}}},
   {"data": {"name": "waveG"}, "mark": {"type": "line", "interpolate": "monotone", "color": "#222", "strokeWidth": 2.5},
    "encoding": {"x": {"field": "t", "type": "quantitative"}, "y": {"field": "d", "type": "quantitative"}}}
  ]},
  {"layer": [
   {"data": {"values": [{"from": 13.75, "to": 25.8}]}, "mark": {"type": "rect", "color": "#e0c3b3"}, "encoding": {"y": {"field": "from", "type": "quantitative"}, "y2": {"field": "to"}}},
   {"data": {"values": [{"g": 1}, {"g": 2}, {"g": 3}]}, "mark": {"type": "rule", "strokeDash": [7, 6], "color": "#8e8e8e", "strokeWidth": 1.5},
    "encoding": {"x": {"field": "g", "type": "quantitative", "scale": {"domain": [0, 4], "nice": false, "zero": false},
      "axis": {"orient": "top", "offset": -44, "values": [0, 1, 2, 3, 4], "format": "d", "labelExpr": "datum.value % 2 == 0 ? datum.label : ''", "labelFontSize": 28, "labelColor": "#222", "labelPadding": 11, "labelFlush": false, "labelOverlap": false, "ticks": true, "tickSize": 7, "tickWidth": 2, "tickColor": "#111", "domain": true, "domainColor": "#111", "domainWidth": 3, "grid": false, "title": "As (ppm)", "titleFontSize": 29, "titleFontWeight": "bold", "titleColor": "#222", "titlePadding": 26}},
     "y": {"datum": 8.3, "type": "quantitative"}, "y2": {"datum": 36.65}}},
   {"data": {"values": [{"g": 0}, {"g": 4}]}, "mark": {"type": "rule", "color": "#1a1a1a", "strokeWidth": 2.5},
    "encoding": {"x": {"field": "g", "type": "quantitative"}, "y": {"datum": 8.3, "type": "quantitative"}, "y2": {"datum": 36.65}}},
   {"data": {"values": [{"d": 25.8}, {"d": 13.75}]}, "mark": {"type": "rule", "strokeDash": [10, 7], "color": "#333", "strokeWidth": 2},
    "encoding": {"y": {"field": "d", "type": "quantitative"}, "x": {"datum": 0, "type": "quantitative"}, "x2": {"datum": 4.984}}},
   {"data": {"name": "geo"}, "transform": [{"filter": "datum.el == 'As'"}], "mark": {"type": "line", "color": "#1a1a1a", "strokeWidth": 2},
    "encoding": {"x": {"field": "v", "type": "quantitative"}, "y": {"field": "d", "type": "quantitative"}, "order": {"field": "d", "type": "quantitative"}}},
   {"data": {"name": "geo"}, "transform": [{"filter": "datum.el == 'As'"}], "mark": {"type": "point", "shape": "circle", "filled": true, "fill": "white", "stroke": "#1a1a1a", "strokeWidth": 2, "size": 85, "opacity": 1},
    "encoding": {"x": {"field": "v", "type": "quantitative"}, "y": {"field": "d", "type": "quantitative"}}}
  ]}
 ]},
{"width": 45.5, "height": 1444, "data": {"values": [{}]}, "mark": {"type": "point", "opacity": 0}, "encoding": {}},
{"width": 185, "height": 1444,
 "resolve": {"scale": {"x": "independent"}},
 "layer": [
  {"layer": [
   {"data": {"name": "waveG"}, "mark": {"type": "area", "orient": "vertical", "interpolate": "monotone", "color": "#fbe4d7"},
    "encoding": {"x": {"field": "t", "type": "quantitative", "scale": {"domain": [0, 1], "nice": false, "zero": false}, "axis": null}, "y": {"field": "d", "type": "quantitative", "scale": {"domain": [0, 37.8], "nice": false, "zero": false}, "axis": null}, "y2": {"datum": 25.8}}},
   {"data": {"name": "o2"}, "mark": {"type": "area", "orient": "vertical", "color": {"gradient": "linear", "x1": 0, "y1": 0, "x2": 1, "y2": 0, "stops": [{"offset": 0, "color": "#e5232a"}, {"offset": 0.25, "color": "#c0504a"}, {"offset": 0.5, "color": "#8e8a8a"}, {"offset": 0.72, "color": "#2196cf"}, {"offset": 1, "color": "#0996d5"}]}},
    "encoding": {"x": {"field": "t", "type": "quantitative"}, "y": {"field": "lo", "type": "quantitative"}, "y2": {"field": "hi"}}},
   {"data": {"name": "o2"}, "transform": [{"filter": "isValid(datum.label)"}], "mark": {"type": "text", "align": "right", "dx": -6, "baseline": "middle", "fontSize": 24, "fontWeight": "bold", "color": "white"},
    "encoding": {"x": {"field": "t", "type": "quantitative"}, "y": {"field": "mid", "type": "quantitative"}, "text": {"field": "label"}}},
   {"data": {"name": "waveG"}, "mark": {"type": "line", "interpolate": "monotone", "color": "#222", "strokeWidth": 2.5},
    "encoding": {"x": {"field": "t", "type": "quantitative"}, "y": {"field": "d", "type": "quantitative"}}}
  ]},
  {"layer": [
   {"data": {"values": [{"from": 13.75, "to": 25.8}]}, "mark": {"type": "rect", "color": "#e0c3b3"}, "encoding": {"y": {"field": "from", "type": "quantitative"}, "y2": {"field": "to"}}},
   {"data": {"values": [{"g": 5}, {"g": 10}, {"g": 15}]}, "mark": {"type": "rule", "strokeDash": [7, 6], "color": "#8e8e8e", "strokeWidth": 1.5},
    "encoding": {"x": {"field": "g", "type": "quantitative", "scale": {"domain": [0, 20], "nice": false, "zero": false},
      "axis": {"orient": "top", "offset": -44, "values": [0, 5, 10, 15, 20], "format": "d", "labelExpr": "datum.value % 10 == 0 ? datum.label : ''", "labelFontSize": 28, "labelColor": "#222", "labelPadding": 11, "labelFlush": false, "labelOverlap": false, "ticks": true, "tickSize": 7, "tickWidth": 2, "tickColor": "#111", "domain": true, "domainColor": "#111", "domainWidth": 3, "grid": false, "title": "V (ppm)", "titleFontSize": 29, "titleFontWeight": "bold", "titleColor": "#222", "titlePadding": 26}},
     "y": {"datum": 8.3, "type": "quantitative"}, "y2": {"datum": 36.65}}},
   {"data": {"values": [{"g": 0}, {"g": 20}]}, "mark": {"type": "rule", "color": "#1a1a1a", "strokeWidth": 2.5},
    "encoding": {"x": {"field": "g", "type": "quantitative"}, "y": {"datum": 8.3, "type": "quantitative"}, "y2": {"datum": 36.65}}},
   {"data": {"values": [{"d": 25.8}, {"d": 13.75}]}, "mark": {"type": "rule", "strokeDash": [10, 7], "color": "#333", "strokeWidth": 2},
    "encoding": {"y": {"field": "d", "type": "quantitative"}, "x": {"datum": 0, "type": "quantitative"}, "x2": {"datum": 24.92}}},
   {"data": {"name": "geo"}, "transform": [{"filter": "datum.el == 'V'"}], "mark": {"type": "line", "color": "#1a1a1a", "strokeWidth": 2},
    "encoding": {"x": {"field": "v", "type": "quantitative"}, "y": {"field": "d", "type": "quantitative"}, "order": {"field": "d", "type": "quantitative"}}},
   {"data": {"name": "geo"}, "transform": [{"filter": "datum.el == 'V'"}], "mark": {"type": "point", "shape": "circle", "filled": true, "fill": "white", "stroke": "#1a1a1a", "strokeWidth": 2, "size": 85, "opacity": 1},
    "encoding": {"x": {"field": "v", "type": "quantitative"}, "y": {"field": "d", "type": "quantitative"}}}
  ]}
 ]},
{"width": 45.5, "height": 1444, "data": {"values": [{}]}, "mark": {"type": "point", "opacity": 0}, "encoding": {}},
{"width": 185, "height": 1444,
 "resolve": {"scale": {"x": "independent"}},
 "layer": [
  {"layer": [
   {"data": {"name": "waveG"}, "mark": {"type": "area", "orient": "vertical", "interpolate": "monotone", "color": "#fbe4d7"},
    "encoding": {"x": {"field": "t", "type": "quantitative", "scale": {"domain": [0, 1], "nice": false, "zero": false}, "axis": null}, "y": {"field": "d", "type": "quantitative", "scale": {"domain": [0, 37.8], "nice": false, "zero": false}, "axis": null}, "y2": {"datum": 25.8}}},
   {"data": {"name": "o2"}, "mark": {"type": "area", "orient": "vertical", "color": {"gradient": "linear", "x1": 0, "y1": 0, "x2": 1, "y2": 0, "stops": [{"offset": 0, "color": "#e5232a"}, {"offset": 0.25, "color": "#c0504a"}, {"offset": 0.5, "color": "#8e8a8a"}, {"offset": 0.72, "color": "#2196cf"}, {"offset": 1, "color": "#0996d5"}]}},
    "encoding": {"x": {"field": "t", "type": "quantitative"}, "y": {"field": "lo", "type": "quantitative"}, "y2": {"field": "hi"}}},
   {"data": {"name": "o2"}, "transform": [{"filter": "isValid(datum.label)"}], "mark": {"type": "text", "align": "right", "dx": -6, "baseline": "middle", "fontSize": 24, "fontWeight": "bold", "color": "white"},
    "encoding": {"x": {"field": "t", "type": "quantitative"}, "y": {"field": "mid", "type": "quantitative"}, "text": {"field": "label"}}},
   {"data": {"name": "waveG"}, "mark": {"type": "line", "interpolate": "monotone", "color": "#222", "strokeWidth": 2.5},
    "encoding": {"x": {"field": "t", "type": "quantitative"}, "y": {"field": "d", "type": "quantitative"}}}
  ]},
  {"layer": [
   {"data": {"values": [{"from": 13.75, "to": 25.8}]}, "mark": {"type": "rect", "color": "#e0c3b3"}, "encoding": {"y": {"field": "from", "type": "quantitative"}, "y2": {"field": "to"}}},
   {"data": {"values": [{"g": 2}, {"g": 4}, {"g": 6}]}, "mark": {"type": "rule", "strokeDash": [7, 6], "color": "#8e8e8e", "strokeWidth": 1.5},
    "encoding": {"x": {"field": "g", "type": "quantitative", "scale": {"domain": [0, 8], "nice": false, "zero": false},
      "axis": {"orient": "top", "offset": -44, "values": [0, 2, 4, 6, 8], "format": "d", "labelExpr": "datum.value % 4 == 0 ? datum.label : ''", "labelFontSize": 28, "labelColor": "#222", "labelPadding": 11, "labelFlush": false, "labelOverlap": false, "ticks": true, "tickSize": 7, "tickWidth": 2, "tickColor": "#111", "domain": true, "domainColor": "#111", "domainWidth": 3, "grid": false, "title": "Mo (ppm)", "titleFontSize": 29, "titleFontWeight": "bold", "titleColor": "#222", "titlePadding": 26}},
     "y": {"datum": 8.3, "type": "quantitative"}, "y2": {"datum": 36.65}}},
   {"data": {"values": [{"g": 0}, {"g": 8}]}, "mark": {"type": "rule", "color": "#1a1a1a", "strokeWidth": 2.5},
    "encoding": {"x": {"field": "g", "type": "quantitative"}, "y": {"datum": 8.3, "type": "quantitative"}, "y2": {"datum": 36.65}}},
   {"data": {"values": [{"d": 25.8}, {"d": 13.75}]}, "mark": {"type": "rule", "strokeDash": [10, 7], "color": "#333", "strokeWidth": 2},
    "encoding": {"y": {"field": "d", "type": "quantitative"}, "x": {"datum": 0, "type": "quantitative"}, "x2": {"datum": 9.97}}},
   {"data": {"name": "geo"}, "transform": [{"filter": "datum.el == 'Mo'"}], "mark": {"type": "line", "color": "#1a1a1a", "strokeWidth": 2},
    "encoding": {"x": {"field": "v", "type": "quantitative"}, "y": {"field": "d", "type": "quantitative"}, "order": {"field": "d", "type": "quantitative"}}},
   {"data": {"name": "geo"}, "transform": [{"filter": "datum.el == 'Mo'"}], "mark": {"type": "point", "shape": "circle", "filled": true, "fill": "white", "stroke": "#1a1a1a", "strokeWidth": 2, "size": 85, "opacity": 1},
    "encoding": {"x": {"field": "v", "type": "quantitative"}, "y": {"field": "d", "type": "quantitative"}}}
  ]}
 ]},
{"width": 45.5, "height": 1444, "data": {"values": [{}]}, "mark": {"type": "point", "opacity": 0}, "encoding": {}},
{"width": 185, "height": 1444,
 "resolve": {"scale": {"x": "independent"}},
 "layer": [
  {"layer": [
   {"data": {"name": "waveG"}, "mark": {"type": "area", "orient": "vertical", "interpolate": "monotone", "color": "#fbe4d7"},
    "encoding": {"x": {"field": "t", "type": "quantitative", "scale": {"domain": [0, 1], "nice": false, "zero": false}, "axis": null}, "y": {"field": "d", "type": "quantitative", "scale": {"domain": [0, 37.8], "nice": false, "zero": false}, "axis": null}, "y2": {"datum": 25.8}}},
   {"data": {"name": "o2"}, "mark": {"type": "area", "orient": "vertical", "color": {"gradient": "linear", "x1": 0, "y1": 0, "x2": 1, "y2": 0, "stops": [{"offset": 0, "color": "#e5232a"}, {"offset": 0.25, "color": "#c0504a"}, {"offset": 0.5, "color": "#8e8a8a"}, {"offset": 0.72, "color": "#2196cf"}, {"offset": 1, "color": "#0996d5"}]}},
    "encoding": {"x": {"field": "t", "type": "quantitative"}, "y": {"field": "lo", "type": "quantitative"}, "y2": {"field": "hi"}}},
   {"data": {"name": "o2"}, "transform": [{"filter": "isValid(datum.label)"}], "mark": {"type": "text", "align": "right", "dx": -6, "baseline": "middle", "fontSize": 24, "fontWeight": "bold", "color": "white"},
    "encoding": {"x": {"field": "t", "type": "quantitative"}, "y": {"field": "mid", "type": "quantitative"}, "text": {"field": "label"}}},
   {"data": {"name": "waveG"}, "mark": {"type": "line", "interpolate": "monotone", "color": "#222", "strokeWidth": 2.5},
    "encoding": {"x": {"field": "t", "type": "quantitative"}, "y": {"field": "d", "type": "quantitative"}}}
  ]},
  {"layer": [
   {"data": {"values": [{"from": 13.75, "to": 25.8}]}, "mark": {"type": "rect", "color": "#e0c3b3"}, "encoding": {"y": {"field": "from", "type": "quantitative"}, "y2": {"field": "to"}}},
   {"data": {"values": [{"g": 0.5}, {"g": 1}, {"g": 1.5}]}, "mark": {"type": "rule", "strokeDash": [7, 6], "color": "#8e8e8e", "strokeWidth": 1.5},
    "encoding": {"x": {"field": "g", "type": "quantitative", "scale": {"domain": [0, 2], "nice": false, "zero": false},
      "axis": {"orient": "top", "offset": -44, "values": [0, 0.5, 1, 1.5, 2], "format": "~g", "labelExpr": "datum.value % 1 == 0 ? datum.label : ''", "labelFontSize": 28, "labelColor": "#222", "labelPadding": 11, "labelFlush": false, "labelOverlap": false, "ticks": true, "tickSize": 7, "tickWidth": 2, "tickColor": "#111", "domain": true, "domainColor": "#111", "domainWidth": 3, "grid": false, "title": "U (ppm)", "titleFontSize": 29, "titleFontWeight": "bold", "titleColor": "#222", "titlePadding": 26}},
     "y": {"datum": 8.3, "type": "quantitative"}, "y2": {"datum": 36.65}}},
   {"data": {"values": [{"g": 0}, {"g": 2}]}, "mark": {"type": "rule", "color": "#1a1a1a", "strokeWidth": 2.5},
    "encoding": {"x": {"field": "g", "type": "quantitative"}, "y": {"datum": 8.3, "type": "quantitative"}, "y2": {"datum": 36.65}}},
   {"data": {"values": [{"d": 25.8}, {"d": 13.75}]}, "mark": {"type": "rule", "strokeDash": [10, 7], "color": "#333", "strokeWidth": 2},
    "encoding": {"y": {"field": "d", "type": "quantitative"}, "x": {"datum": 0, "type": "quantitative"}, "x2": {"datum": 2.49}}},
   {"data": {"name": "geo"}, "transform": [{"filter": "datum.el == 'U'"}], "mark": {"type": "line", "color": "#1a1a1a", "strokeWidth": 2},
    "encoding": {"x": {"field": "v", "type": "quantitative"}, "y": {"field": "d", "type": "quantitative"}, "order": {"field": "d", "type": "quantitative"}}},
   {"data": {"name": "geo"}, "transform": [{"filter": "datum.el == 'U'"}], "mark": {"type": "point", "shape": "circle", "filled": true, "fill": "white", "stroke": "#1a1a1a", "strokeWidth": 2, "size": 85, "opacity": 1},
    "encoding": {"x": {"field": "v", "type": "quantitative"}, "y": {"field": "d", "type": "quantitative"}}}
  ]}
 ]},
{"width": 45.5, "height": 1444, "data": {"values": [{}]}, "mark": {"type": "point", "opacity": 0}, "encoding": {}},
{"width": 185, "height": 1444,
 "resolve": {"scale": {"x": "independent"}},
 "layer": [
  {"layer": [
   {"data": {"name": "waveG"}, "mark": {"type": "area", "orient": "vertical", "interpolate": "monotone", "color": "#fbe4d7"},
    "encoding": {"x": {"field": "t", "type": "quantitative", "scale": {"domain": [0, 1], "nice": false, "zero": false}, "axis": null}, "y": {"field": "d", "type": "quantitative", "scale": {"domain": [0, 37.8], "nice": false, "zero": false}, "axis": null}, "y2": {"datum": 25.8}}},
   {"data": {"name": "waveG"}, "mark": {"type": "line", "interpolate": "monotone", "color": "#222", "strokeWidth": 2.5},
    "encoding": {"x": {"field": "t", "type": "quantitative"}, "y": {"field": "d", "type": "quantitative"}}}
  ]},
  {"layer": [
   {"data": {"values": [{"from": 13.75, "to": 25.8}]}, "mark": {"type": "rect", "color": "#e0c3b3"}, "encoding": {"y": {"field": "from", "type": "quantitative"}, "y2": {"field": "to"}}},
   {"data": {"values": [{"g": 400}, {"g": 800}, {"g": 1200}]}, "mark": {"type": "rule", "strokeDash": [7, 6], "color": "#8e8e8e", "strokeWidth": 1.5},
    "encoding": {"x": {"field": "g", "type": "quantitative", "scale": {"domain": [0, 1600], "nice": false, "zero": false},
      "axis": {"orient": "top", "offset": -44, "values": [0, 400, 800, 1200, 1600], "format": "d", "labelExpr": "datum.value % 800 == 0 ? datum.label : ''", "labelFontSize": 28, "labelColor": "#222", "labelPadding": 11, "labelFlush": false, "labelOverlap": false, "ticks": true, "tickSize": 7, "tickWidth": 2, "tickColor": "#111", "domain": true, "domainColor": "#111", "domainWidth": 3, "grid": false, "title": "Al (ppm)", "titleFontSize": 29, "titleFontWeight": "bold", "titleColor": "#222", "titlePadding": 26}},
     "y": {"datum": 8.3, "type": "quantitative"}, "y2": {"datum": 36.65}}},
   {"data": {"values": [{"g": 0}, {"g": 1600}]}, "mark": {"type": "rule", "color": "#1a1a1a", "strokeWidth": 2.5},
    "encoding": {"x": {"field": "g", "type": "quantitative"}, "y": {"datum": 8.3, "type": "quantitative"}, "y2": {"datum": 36.65}}},
   {"data": {"values": [{"d": 25.8}, {"d": 13.75}]}, "mark": {"type": "rule", "strokeDash": [10, 7], "color": "#333", "strokeWidth": 2},
    "encoding": {"y": {"field": "d", "type": "quantitative"}, "x": {"datum": 0, "type": "quantitative"}, "x2": {"datum": 1600}}},
   {"data": {"name": "geo"}, "transform": [{"filter": "datum.el == 'Al'"}], "mark": {"type": "line", "color": "#1a1a1a", "strokeWidth": 2},
    "encoding": {"x": {"field": "v", "type": "quantitative"}, "y": {"field": "d", "type": "quantitative"}, "order": {"field": "d", "type": "quantitative"}}},
   {"data": {"name": "geo"}, "transform": [{"filter": "datum.el == 'Al'"}], "mark": {"type": "point", "shape": "circle", "filled": true, "fill": "white", "stroke": "#1a1a1a", "strokeWidth": 2, "size": 85, "opacity": 1},
    "encoding": {"x": {"field": "v", "type": "quantitative"}, "y": {"field": "d", "type": "quantitative"}}}
  ]}
 ]}
],
"resolve": {"scale": {"color": "independent", "fill": "independent", "stroke": "independent", "strokeDash": "independent"}, "legend": {"color": "independent", "fill": "independent", "stroke": "independent", "strokeDash": "independent"}}
}
